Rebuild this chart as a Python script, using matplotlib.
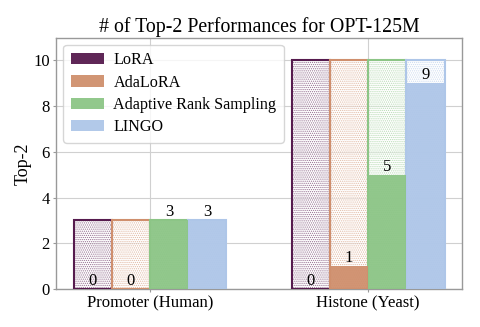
import matplotlib.pyplot as plt
import numpy as np

plt.rcParams['font.family'] = ['Liberation Serif', 'DejaVu Serif']
plt.rcParams['hatch.linewidth'] = 0.6

# data
groups = ["Promoter (Human)", "Histone (Yeast)"]
methods = ["LoRA", "AdaLoRA", "Adaptive Rank Sampling", "LINGO"]
totals = [3, 10]
counts = {
    "LoRA": [0, 0],
    "AdaLoRA": [0, 1],
    "Adaptive Rank Sampling": [3, 5],
    "LINGO": [3, 9],
}
colors = ["#561b4e", "#cf8f6d", "#8cc586", "#aec6e8"]

fig, ax = plt.subplots(figsize=(4.8, 3.27), dpi=100)

x = np.arange(len(groups))
width = 0.175
offsets = (np.arange(len(methods)) - 1.5) * width

for i, m in enumerate(methods):
    pos = x + offsets[i]
    # hatched "total" background bars
    ax.bar(pos, totals, width, facecolor="white", edgecolor=colors[i],
           hatch="........", linewidth=0, alpha=0.6, zorder=2)
    ax.bar(pos, totals, width, facecolor="none", edgecolor=colors[i],
           linewidth=1.5, zorder=3)
    # actual counts
    ax.bar(pos, counts[m], width, color=colors[i], alpha=0.95, zorder=4,
           label=m, linewidth=0)
    for p, v in zip(pos, counts[m]):
        ax.text(p, v, str(v), ha="center", va="bottom", fontsize=12, zorder=6)

ax.set_xticks(x)
ax.set_xticklabels(groups, fontsize=12)
ax.set_xlim(-0.43, 1.43)
ax.set_ylim(0, 11)
ax.set_yticks([0, 2, 4, 6, 8, 10])
ax.tick_params(axis="y", labelsize=12, color="#999999", length=2.5, pad=2)
ax.tick_params(axis="x", color="#999999", length=2.5, pad=2)
ax.set_ylabel("Top-2", fontsize=13, labelpad=1.5)
ax.set_title("# of Top-2 Performances for OPT-125M", fontsize=14.3, pad=4)

ax.grid(True, color="#d0d0d0", linewidth=0.8, zorder=0)
ax.set_axisbelow(True)
for s in ax.spines.values():
    s.set_color("#999999")
    s.set_linewidth(1.0)

leg = ax.legend(loc="upper left", fontsize=11.6, frameon=True, handlelength=2.1,
                borderpad=0.45, labelspacing=0.4, borderaxespad=0.45,
                handletextpad=0.55)
leg.get_frame().set_edgecolor("#cccccc")
leg.set_zorder(10)

fig.subplots_adjust(left=0.117, right=0.9625, top=0.885, bottom=0.116)
fig.savefig("out.png", dpi=100)
